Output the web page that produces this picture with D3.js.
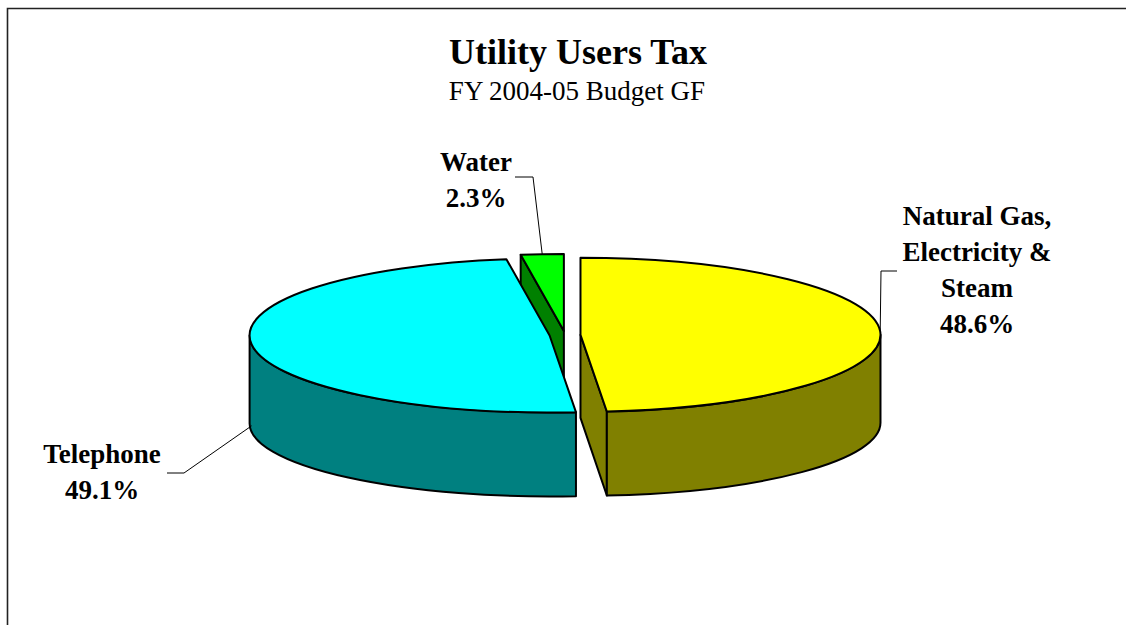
<!DOCTYPE html>
<html>
<head>
<meta charset="utf-8">
<script src="https://cdn.jsdelivr.net/npm/d3@7"></script>
<style>
  html, body { margin: 0; padding: 0; background: #fff; }
  svg { display: block; font-family: "Liberation Serif", "Times New Roman", serif; }
</style>
</head>
<body>
<svg id="chart" width="1126" height="625"></svg>
<script>
// data
const categories = ['Natural Gas, Electricity & Steam', 'Telephone', 'Water'];
const labelLines = [['Natural Gas,', 'Electricity &', 'Steam'], ['Telephone'], ['Water']];
const shares = [48.6, 49.1, 2.3];
const topColors = ['#ffff00', '#00ffff', '#00ff00'];
const sideColors = ['#808000', '#008080', '#008000'];

// label layout (text anchor + leader start / elbow), one per slice
const labelPos = [
    {x: 977, y: 225, leader: [[897, 271], [881, 271]], depthFrac: 0},
    {x: 102, y: 463, leader: [[167, 473], [184, 473]], depthFrac: 0.93},
    {x: 476, y: 171, leader: [[515, 177], [533, 177]], depthFrac: 0}
];

// pie geometry
const cx = 565, cy = 335;
const rx = 300, ry = 77;
const depth = 83;          // drop of the centre point
const rimDrop = 88;        // drop of the bottom rim ellipse
const ryBottom = 73;
const explode = 15.5;

const svg = d3.select('#chart');

// frame
svg.append('path')
    .attr('d', 'M7.5,625 L7.5,8.5 L1126,8.5')
    .attr('fill', 'none')
    .attr('stroke', '#222')
    .attr('stroke-width', 1.6);

// titles
svg.append('text')
    .attr('x', 578).attr('y', 64)
    .attr('text-anchor', 'middle')
    .attr('font-size', 36).attr('font-weight', 'bold')
    .text('Utility Users Tax');

svg.append('text')
    .attr('x', 577).attr('y', 100)
    .attr('text-anchor', 'middle')
    .attr('font-size', 27)
    .text('FY 2004-05 Budget GF');

let pie = d3.pie().sort(null).value(d => d)(shares);

// offsets for each slice
pie.forEach(function(p){
    let mid = (p.startAngle + p.endAngle) / 2;
    p.mid = mid;
    p.ox = cx + explode * Math.sin(mid);
    p.oy = cy - explode * Math.cos(mid) * ry / rx;
});

function topPt(p, a){
    return [p.ox + rx * Math.sin(a), p.oy - ry * Math.cos(a)];
}
function botPt(p, a){
    return [p.ox + rx * Math.sin(a), p.oy + rimDrop - ryBottom * Math.cos(a)];
}

function topPath(p){
    let a = topPt(p, p.startAngle), b = topPt(p, p.endAngle);
    let large = (p.endAngle - p.startAngle) > Math.PI ? 1 : 0;
    return `M${p.ox},${p.oy} L${a[0]},${a[1]} A${rx},${ry} 0 ${large} 1 ${b[0]},${b[1]} Z`;
}

function wallPath(p){
    let a0 = Math.max(p.startAngle, Math.PI / 2);
    let a1 = Math.min(p.endAngle, 3 * Math.PI / 2);
    if (a1 <= a0) return null;
    let t0 = topPt(p, a0), t1 = topPt(p, a1);
    let b0 = botPt(p, a0), b1 = botPt(p, a1);
    return `M${t0[0]},${t0[1]} A${rx},${ry} 0 0 1 ${t1[0]},${t1[1]} L${b1[0]},${b1[1]} A${rx},${ryBottom} 0 0 0 ${b0[0]},${b0[1]} Z`;
}

function facePath(p, a){
    let t = topPt(p, a), b = botPt(p, a);
    return `M${p.ox},${p.oy} L${t[0]},${t[1]} L${b[0]},${b[1]} L${p.ox},${p.oy + depth} Z`;
}

let layer = svg.append('g')
    .attr('stroke', '#000')
    .attr('stroke-width', 2)
    .attr('stroke-linejoin', 'round');

// radial faces that turn towards the viewer
pie.forEach(function(p, i){
    if (Math.sin(p.startAngle) < -1e-6){
        layer.append('path').attr('d', facePath(p, p.startAngle)).attr('fill', sideColors[i]);
    }
    if (Math.sin(p.endAngle) > 1e-6){
        layer.append('path').attr('d', facePath(p, p.endAngle)).attr('fill', sideColors[i]);
    }
});

// outer walls
pie.forEach(function(p, i){
    let d = wallPath(p);
    if (d) layer.append('path').attr('d', d).attr('fill', sideColors[i]);
});

// top faces
pie.forEach(function(p, i){
    layer.append('path').attr('d', topPath(p)).attr('fill', topColors[i]);
});

// labels and leader lines
pie.forEach(function(p, i){
    let lp = labelPos[i];
    let t = topPt(p, p.mid), b = botPt(p, p.mid);
    let end = [t[0] + (b[0] - t[0]) * lp.depthFrac, t[1] + (b[1] - t[1]) * lp.depthFrac];
    svg.append('polyline')
        .attr('points', [lp.leader[0], lp.leader[1], end].map(q => q.join(',')).join(' '))
        .attr('fill', 'none')
        .attr('stroke', '#000')
        .attr('stroke-width', 1);

    let lines = labelLines[i].concat([shares[i].toFixed(1) + '%']);
    let txt = svg.append('text')
        .attr('x', lp.x).attr('y', lp.y)
        .attr('text-anchor', 'middle')
        .attr('font-size', 27).attr('font-weight', 'bold');
    lines.forEach(function(s, k){
        txt.append('tspan')
            .attr('x', lp.x)
            .attr('dy', k === 0 ? 0 : 36)
            .text(s);
    });
});
</script>
</body>
</html>
